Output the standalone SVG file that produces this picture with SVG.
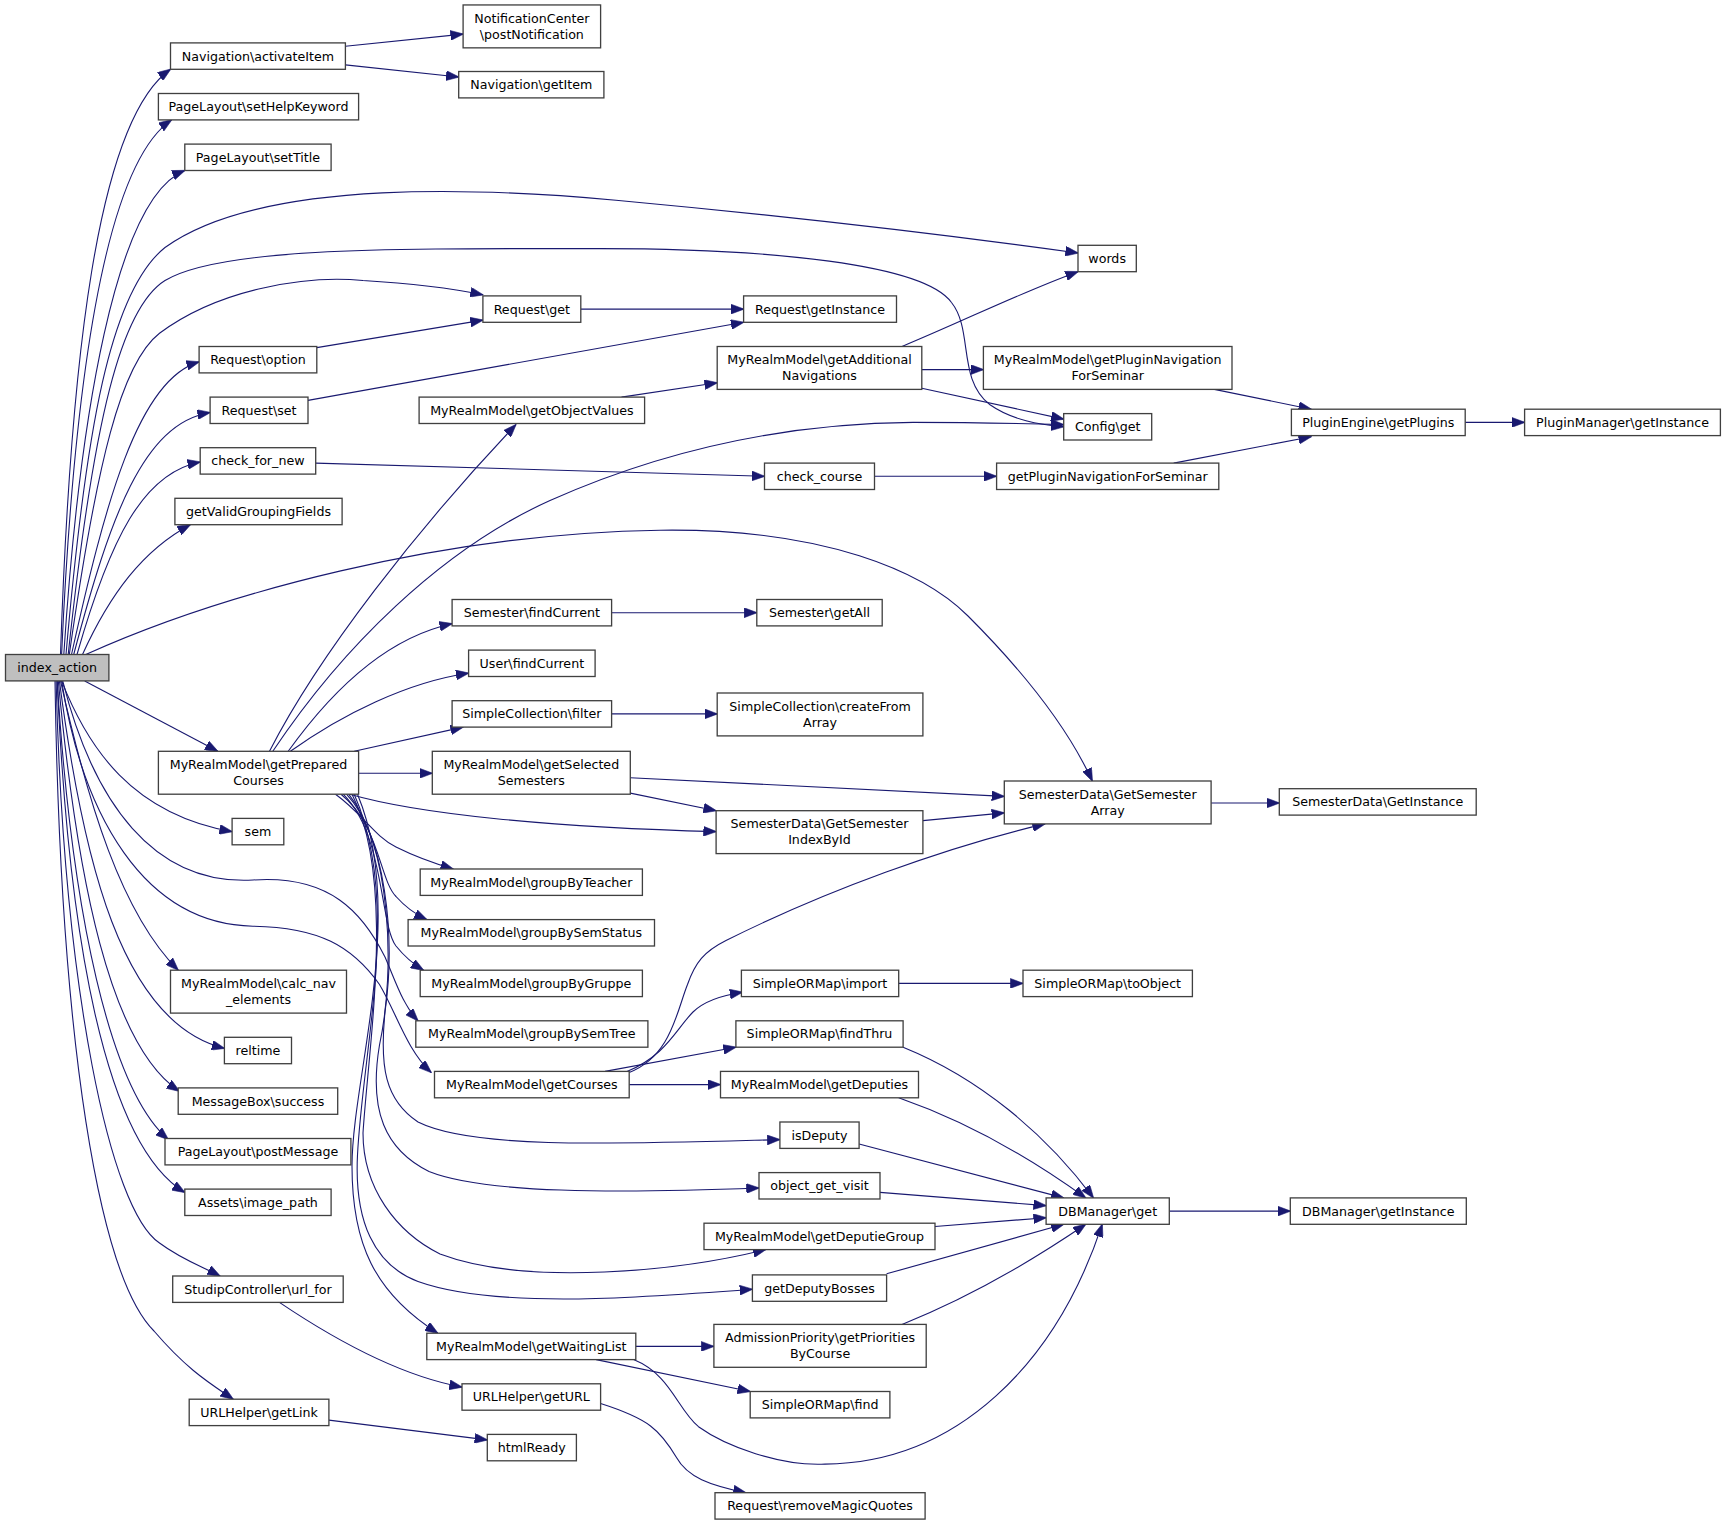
<svg xmlns="http://www.w3.org/2000/svg" width="1725" height="1525" viewBox="0 0 1725 1525">
<style>
.n rect{fill:#ffffff;stroke:#404040;stroke-width:1.2}
.n rect.root{fill:#bfbfbf}
.n text{font-family:"DejaVu Sans","Liberation Sans",sans-serif;font-size:11.5px;fill:#000000;text-anchor:middle}
#edges path{fill:none;stroke:#191970;stroke-width:1;marker-end:url(#ah)}
</style>
<defs>
<marker id="ah" markerUnits="userSpaceOnUse" markerWidth="12" markerHeight="9" viewBox="0 0 12 9" refX="11.5" refY="4.5" orient="auto">
<path d="M0,0 L12,4.5 L0,9 z" fill="#191970" stroke="#191970" stroke-width="0.5"/>
</marker>
</defs>
<rect x="0" y="0" width="1725" height="1525" fill="#ffffff"/>
<g transform="scale(1.1)">
<g id="edges">
<path d="M55,595 C64,330 88,110 155,63"/>
<path d="M56,595 C67,350 95,150 156,109"/>
<path d="M58,595 C72,380 105,180 168,155"/>
<path d="M60,595 C78,390 100,265 150,225 C240,160 450,172 560,182 C700,195 850,212 980,230"/>
<path d="M62,595 C85,380 110,280 150,255 C200,225 350,226 545,226 C700,226 840,240 865,275 C885,300 870,345 900,368 C920,382 945,386 967,388"/>
<path d="M63,595 C88,420 110,330 145,303 C200,262 280,250 330,255 C380,258 410,262 439,268"/>
<path d="M65,595 C95,460 125,345 181,329"/>
<path d="M67,595 C100,470 130,385 191,375"/>
<path d="M70,595 C100,490 130,430 182,420"/>
<path d="M75,595 C100,540 130,500 173,477"/>
<path d="M78,595 C200,540 400,485 600,482 C750,480 840,520 880,560 C930,610 970,660 993,710"/>
<path d="M77,619 L198,683"/>
<path d="M56,619 C80,680 120,740 211,756"/>
<path d="M57,619 C85,730 140,805 230,800 C300,795 330,830 350,870 C360,893 366,913 380,928"/>
<path d="M56,619 C75,740 130,840 230,842 C290,843 320,860 345,895 C360,920 370,955 392,975"/>
<path d="M55,619 C80,730 110,830 162,882"/>
<path d="M54,619 C75,780 110,930 204,953"/>
<path d="M53,619 C70,800 100,950 163,992"/>
<path d="M52,619 C65,830 100,990 153,1036"/>
<path d="M52,619 C62,850 95,1040 168,1084"/>
<path d="M51,619 C58,900 100,1100 145,1130 C165,1145 185,1152 200,1160"/>
<path d="M50,619 C55,950 90,1160 140,1210 C170,1245 190,1257 212,1272"/>
<path d="M314,42 L421,31"/>
<path d="M314,59 L417,70"/>
<path d="M528,281 L676,281"/>
<path d="M288,316 L439,291"/>
<path d="M280,364 L676,293"/>
<path d="M565,361 L652,348"/>
<path d="M820,315 C880,290 930,265 980,247"/>
<path d="M838,336 L894,336"/>
<path d="M838,353 L967,381"/>
<path d="M1104,354 L1192,372"/>
<path d="M1067,421 L1192,397"/>
<path d="M1332,384 L1386,384"/>
<path d="M287,421 L695,433"/>
<path d="M795,433 L906,433"/>
<path d="M245,683 C290,595 380,480 469,386"/>
<path d="M248,683 C310,590 400,500 500,455 C590,415 700,385 830,384 C890,384 930,385 967,386"/>
<path d="M262,683 C300,630 350,580 411,567"/>
<path d="M264,683 C310,650 370,620 426,612"/>
<path d="M322,683 L421,661"/>
<path d="M326,703 L393,703"/>
<path d="M318,722 C380,740 500,752 651,756"/>
<path d="M305,722 C330,740 340,760 360,770 C380,780 395,785 412,790"/>
<path d="M310,722 C345,750 345,800 360,815 C368,824 375,830 388,836"/>
<path d="M312,722 C350,760 345,840 360,860 C368,870 375,876 385,882"/>
<path d="M315,722 C350,760 360,850 350,920 C345,970 350,1000 380,1020 C430,1045 560,1040 709,1036"/>
<path d="M317,722 C355,770 360,880 345,950 C335,1010 350,1045 390,1065 C440,1085 560,1085 690,1080"/>
<path d="M320,722 C360,800 335,950 330,1030 C330,1080 360,1120 400,1140 C480,1170 620,1155 696,1136"/>
<path d="M322,722 C365,820 330,950 325,1050 C322,1110 340,1150 380,1165 C450,1190 580,1180 684,1172"/>
<path d="M325,722 C370,830 320,980 320,1060 C320,1130 340,1175 398,1212"/>
<path d="M556,557 L688,557"/>
<path d="M556,649 L652,649"/>
<path d="M573,707 L913,724"/>
<path d="M573,721 L651,737"/>
<path d="M839,746 L913,739"/>
<path d="M1101,730 L1163,730"/>
<path d="M572,975 C610,960 615,920 625,895 C632,875 640,865 660,855 C750,810 860,770 950,749"/>
<path d="M570,974 C605,960 615,935 630,920 C640,910 655,905 675,902"/>
<path d="M550,974 L669,952"/>
<path d="M572,986 L655,986"/>
<path d="M817,894 L930,894"/>
<path d="M821,952 C890,980 950,1030 994,1089"/>
<path d="M817,998 C880,1020 940,1055 987,1089"/>
<path d="M781,1040 L967,1089"/>
<path d="M800,1084 L951,1096"/>
<path d="M850,1115 L951,1107"/>
<path d="M806,1158 L967,1113"/>
<path d="M820,1204 C880,1180 940,1145 987,1113"/>
<path d="M576,1236 C610,1250 615,1280 635,1297 C660,1315 710,1333 750,1331 C870,1330 960,1240 1002,1113"/>
<path d="M578,1224 L649,1224"/>
<path d="M542,1236 L682,1265"/>
<path d="M1063,1101 L1173,1101"/>
<path d="M254,1184 C300,1215 360,1250 420,1261"/>
<path d="M546,1276 C590,1290 600,1300 615,1325 C625,1343 645,1350 678,1357"/>
<path d="M299,1291 L443,1309"/>
</g>
<g id="nodes">
<g class="n" id="n1"><rect class="root" x="5" y="595" width="94" height="24"/><text x="52" y="611">index_action</text></g>
<g class="n" id="n2"><rect x="155" y="39" width="159" height="24"/><text x="234.5" y="55">Navigation\activateItem</text></g>
<g class="n" id="n3"><rect x="421" y="4.5" width="125" height="39"/><text x="483.5" y="20.5">NotificationCenter</text><text x="483.5" y="35">\postNotification</text></g>
<g class="n" id="n4"><rect x="417" y="65" width="132" height="24"/><text x="483" y="81">Navigation\getItem</text></g>
<g class="n" id="n5"><rect x="144" y="85" width="182" height="24"/><text x="235" y="101">PageLayout\setHelpKeyword</text></g>
<g class="n" id="n6"><rect x="168" y="131" width="133" height="24"/><text x="234.5" y="147">PageLayout\setTitle</text></g>
<g class="n" id="n7"><rect x="980" y="223" width="53" height="24"/><text x="1006.5" y="239">words</text></g>
<g class="n" id="n8"><rect x="439" y="269" width="89" height="24"/><text x="483.5" y="285">Request\get</text></g>
<g class="n" id="n9"><rect x="676" y="269" width="139" height="24"/><text x="745.5" y="285">Request\getInstance</text></g>
<g class="n" id="n10"><rect x="181" y="315" width="107" height="24"/><text x="234.5" y="331">Request\option</text></g>
<g class="n" id="n11"><rect x="191" y="361" width="89" height="24"/><text x="235.5" y="377">Request\set</text></g>
<g class="n" id="n12"><rect x="381" y="361" width="205" height="24"/><text x="483.5" y="377">MyRealmModel\getObjectValues</text></g>
<g class="n" id="n13"><rect x="652" y="315" width="186" height="39"/><text x="745" y="331">MyRealmModel\getAdditional</text><text x="745" y="345.5">Navigations</text></g>
<g class="n" id="n14"><rect x="894" y="315" width="226" height="39"/><text x="1007" y="331">MyRealmModel\getPluginNavigation</text><text x="1007" y="345.5">ForSeminar</text></g>
<g class="n" id="n15"><rect x="967" y="376" width="80" height="24"/><text x="1007" y="392">Config\get</text></g>
<g class="n" id="n16"><rect x="1174" y="372" width="158" height="24"/><text x="1253" y="388">PluginEngine\getPlugins</text></g>
<g class="n" id="n17"><rect x="1386" y="372" width="178" height="24"/><text x="1475" y="388">PluginManager\getInstance</text></g>
<g class="n" id="n18"><rect x="182" y="407" width="105" height="24"/><text x="234.5" y="423">check_for_new</text></g>
<g class="n" id="n19"><rect x="695" y="421" width="100" height="24"/><text x="745" y="437">check_course</text></g>
<g class="n" id="n20"><rect x="906" y="421" width="202" height="24"/><text x="1007" y="437">getPluginNavigationForSeminar</text></g>
<g class="n" id="n21"><rect x="159" y="453" width="152" height="24"/><text x="235" y="469">getValidGroupingFields</text></g>
<g class="n" id="n22"><rect x="411" y="545" width="145" height="24"/><text x="483.5" y="561">Semester\findCurrent</text></g>
<g class="n" id="n23"><rect x="688" y="545" width="114" height="24"/><text x="745" y="561">Semester\getAll</text></g>
<g class="n" id="n24"><rect x="426" y="591" width="115" height="24"/><text x="483.5" y="607">User\findCurrent</text></g>
<g class="n" id="n25"><rect x="411" y="637" width="145" height="24"/><text x="483.5" y="653">SimpleCollection\filter</text></g>
<g class="n" id="n26"><rect x="652" y="630" width="187" height="39"/><text x="745.5" y="646">SimpleCollection\createFrom</text><text x="745.5" y="660.5">Array</text></g>
<g class="n" id="n27"><rect x="144" y="683" width="182" height="39"/><text x="235" y="699">MyRealmModel\getPrepared</text><text x="235" y="713.5">Courses</text></g>
<g class="n" id="n28"><rect x="393" y="683" width="180" height="39"/><text x="483" y="699">MyRealmModel\getSelected</text><text x="483" y="713.5">Semesters</text></g>
<g class="n" id="n29"><rect x="913" y="710" width="188" height="39"/><text x="1007" y="726">SemesterData\GetSemester</text><text x="1007" y="740.5">Array</text></g>
<g class="n" id="n30"><rect x="651" y="737" width="188" height="39"/><text x="745" y="753">SemesterData\GetSemester</text><text x="745" y="767.5">IndexById</text></g>
<g class="n" id="n31"><rect x="1163" y="717" width="179" height="24"/><text x="1252.5" y="733">SemesterData\GetInstance</text></g>
<g class="n" id="n32"><rect x="211" y="744" width="47" height="24"/><text x="234.5" y="760">sem</text></g>
<g class="n" id="n33"><rect x="382" y="790" width="202" height="24"/><text x="483" y="806">MyRealmModel\groupByTeacher</text></g>
<g class="n" id="n34"><rect x="371" y="836" width="224" height="24"/><text x="483" y="852">MyRealmModel\groupBySemStatus</text></g>
<g class="n" id="n35"><rect x="155" y="882" width="160" height="39"/><text x="235" y="898">MyRealmModel\calc_nav</text><text x="235" y="912.5">_elements</text></g>
<g class="n" id="n36"><rect x="382" y="882" width="202" height="24"/><text x="483" y="898">MyRealmModel\groupByGruppe</text></g>
<g class="n" id="n37"><rect x="378" y="928" width="211" height="24"/><text x="483.5" y="944">MyRealmModel\groupBySemTree</text></g>
<g class="n" id="n38"><rect x="674" y="882" width="143" height="24"/><text x="745.5" y="898">SimpleORMap\import</text></g>
<g class="n" id="n39"><rect x="930" y="882" width="154" height="24"/><text x="1007" y="898">SimpleORMap\toObject</text></g>
<g class="n" id="n40"><rect x="669" y="928" width="152" height="24"/><text x="745" y="944">SimpleORMap\findThru</text></g>
<g class="n" id="n41"><rect x="204" y="943" width="61" height="24"/><text x="234.5" y="959">reltime</text></g>
<g class="n" id="n42"><rect x="395" y="974" width="177" height="24"/><text x="483.5" y="990">MyRealmModel\getCourses</text></g>
<g class="n" id="n43"><rect x="655" y="974" width="180" height="24"/><text x="745" y="990">MyRealmModel\getDeputies</text></g>
<g class="n" id="n44"><rect x="162" y="989" width="145" height="24"/><text x="234.5" y="1005">MessageBox\success</text></g>
<g class="n" id="n45"><rect x="709" y="1020" width="72" height="24"/><text x="745" y="1036">isDeputy</text></g>
<g class="n" id="n46"><rect x="150" y="1035" width="169" height="24"/><text x="234.5" y="1051">PageLayout\postMessage</text></g>
<g class="n" id="n47"><rect x="690" y="1066" width="110" height="24"/><text x="745" y="1082">object_get_visit</text></g>
<g class="n" id="n48"><rect x="951" y="1089" width="112" height="24"/><text x="1007" y="1105">DBManager\get</text></g>
<g class="n" id="n49"><rect x="1173" y="1089" width="160" height="24"/><text x="1253" y="1105">DBManager\getInstance</text></g>
<g class="n" id="n50"><rect x="168" y="1081" width="133" height="24"/><text x="234.5" y="1097">Assets\image_path</text></g>
<g class="n" id="n51"><rect x="640" y="1112" width="210" height="24"/><text x="745" y="1128">MyRealmModel\getDeputieGroup</text></g>
<g class="n" id="n52"><rect x="684" y="1159" width="122" height="24"/><text x="745" y="1175">getDeputyBosses</text></g>
<g class="n" id="n53"><rect x="157" y="1160" width="155" height="24"/><text x="234.5" y="1176">StudipController\url_for</text></g>
<g class="n" id="n54"><rect x="388" y="1212" width="190" height="24"/><text x="483" y="1228">MyRealmModel\getWaitingList</text></g>
<g class="n" id="n55"><rect x="649" y="1204" width="193" height="39"/><text x="745.5" y="1220">AdmissionPriority\getPriorities</text><text x="745.5" y="1234.5">ByCourse</text></g>
<g class="n" id="n56"><rect x="420" y="1258" width="126" height="24"/><text x="483" y="1274">URLHelper\getURL</text></g>
<g class="n" id="n57"><rect x="682" y="1265" width="127" height="24"/><text x="745.5" y="1281">SimpleORMap\find</text></g>
<g class="n" id="n58"><rect x="172" y="1272" width="127" height="24"/><text x="235.5" y="1288">URLHelper\getLink</text></g>
<g class="n" id="n59"><rect x="443" y="1304" width="81" height="24"/><text x="483.5" y="1320">htmlReady</text></g>
<g class="n" id="n60"><rect x="650" y="1357" width="191" height="24"/><text x="745.5" y="1373">Request\removeMagicQuotes</text></g>
</g>
</g>
</svg>
